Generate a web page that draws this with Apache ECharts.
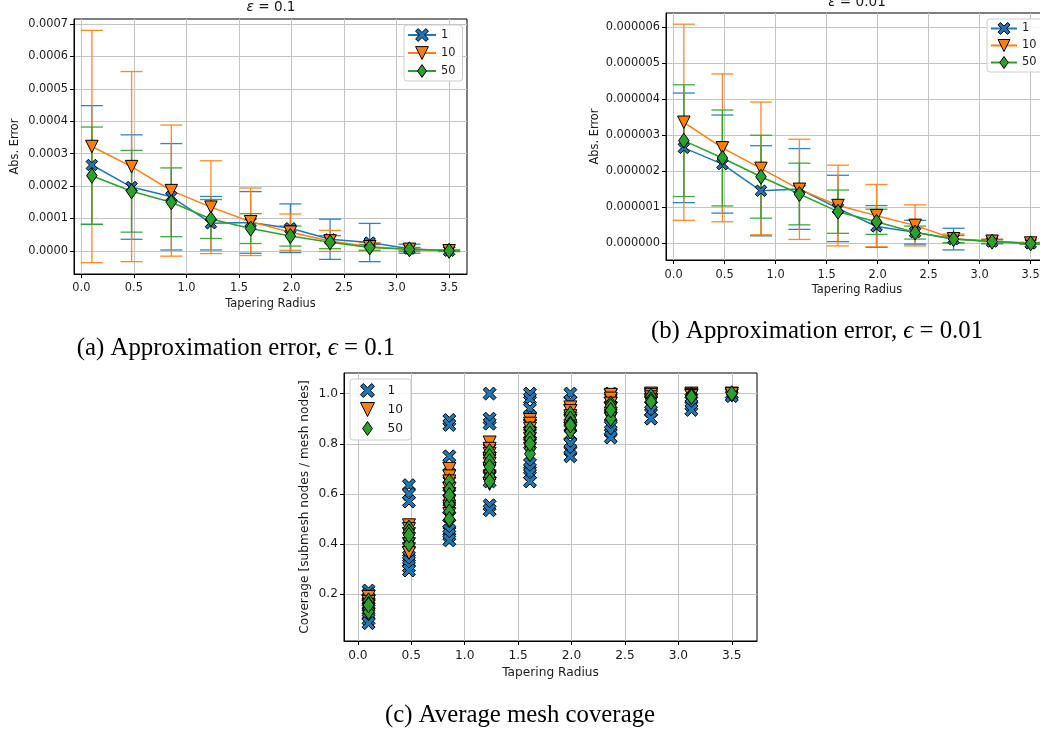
<!DOCTYPE html>
<html>
<head>
<meta charset="utf-8">
<script src="https://cdn.jsdelivr.net/npm/echarts@6/dist/echarts.min.js"></script>
<style>
html,body{margin:0;padding:0;background:#fff;}
#chart{width:1040px;height:732px;}
</style>
</head>
<body>
<div id="chart"></div>
<script>
// ---------------- DATA ----------------
const radii = [0.1, 0.478, 0.856, 1.233, 1.611, 1.989, 2.367, 2.744, 3.122, 3.5];
const seriesNames = ['1', '10', '50'];
const xTicks = [0, 0.5, 1, 1.5, 2, 2.5, 3, 3.5];
const yTicksA = [0, 0.0001, 0.0002, 0.0003, 0.0004, 0.0005, 0.0006, 0.0007];
const yTicksB = [0, 0.000001, 0.000002, 0.000003, 0.000004, 0.000005, 0.000006];
const yTicksC = [0.2, 0.4, 0.6, 0.8, 1.0];

// (a) epsilon = 0.1 : mean abs. error and spread
const meanA1  = [0.000265, 0.000197, 0.000167, 0.0000855, 0.000088, 0.00007, 0.000036, 0.000026, 0.000007, 0.0000005];
const stdA1   = [0.000183, 0.000161, 0.000164, 0.0000825, 0.000095, 0.000075, 0.000062, 0.000059, 0.000014, 0.000002];
const meanA10 = [0.000322, 0.00026, 0.000186, 0.000135, 0.00009, 0.000058, 0.000031, 0.000013, 0.000005, 0.0000005];
const stdA10  = [0.000358, 0.000293, 0.000202, 0.000143, 0.000104, 0.000056, 0.0000325, 0.000013, 0.000006, 0.000002];
const meanA50 = [0.000232, 0.000184, 0.00015, 0.0000985, 0.000069, 0.000046, 0.000027, 0.000011, 0.000005, 0.0000005];
const stdA50  = [0.00015, 0.000126, 0.000106, 0.00006, 0.000046, 0.000031, 0.00002, 0.0000087, 0.000005, 0.000002];

// (b) epsilon = 0.01
const meanB1  = [2.65e-6, 2.2e-6, 1.46e-6, 1.51e-6, 0.97e-6, 0.47e-6, 0.31e-6, 0.12e-6, 0.05e-6, 0.0];
const stdB1   = [1.52e-6, 1.36e-6, 1.25e-6, 1.12e-6, 0.92e-6, 0.58e-6, 0.33e-6, 0.3e-6, 0.06e-6, 0.02e-6];
const meanB10 = [3.36e-6, 2.65e-6, 2.08e-6, 1.5e-6, 1.05e-6, 0.77e-6, 0.5e-6, 0.13e-6, 0.06e-6, 0.01e-6];
const stdB10  = [2.72e-6, 2.05e-6, 1.84e-6, 1.39e-6, 1.12e-6, 0.865e-6, 0.57e-6, 0.13e-6, 0.06e-6, 0.02e-6];
const meanB50 = [2.85e-6, 2.37e-6, 1.85e-6, 1.37e-6, 0.88e-6, 0.6e-6, 0.3e-6, 0.12e-6, 0.05e-6, 0.0];
const stdB50  = [1.55e-6, 1.33e-6, 1.15e-6, 0.855e-6, 0.6e-6, 0.35e-6, 0.18e-6, 0.1e-6, 0.05e-6, 0.02e-6];

// (c) coverage samples per tapering radius
const cov1 = [
  [0.215, 0.2, 0.18, 0.16, 0.14, 0.12, 0.1, 0.085],
  [0.635, 0.6, 0.57, 0.37, 0.35, 0.33, 0.31, 0.295],
  [0.895, 0.875, 0.75, 0.68, 0.63, 0.58, 0.54, 0.51, 0.48, 0.455, 0.435, 0.415],
  [1.0, 0.9, 0.88, 0.78, 0.74, 0.7, 0.675, 0.65, 0.555, 0.535],
  [1.0, 0.98, 0.94, 0.91, 0.88, 0.84, 0.8, 0.72, 0.7, 0.68, 0.65],
  [1.0, 0.97, 0.94, 0.9, 0.87, 0.835, 0.8, 0.775, 0.75],
  [1.0, 0.98, 0.95, 0.91, 0.87, 0.85, 0.825],
  [1.0, 0.98, 0.95, 0.93, 0.9],
  [1.0, 0.98, 0.955, 0.935],
  [1.0, 0.99]
];
const cov10 = [
  [0.19, 0.17, 0.155, 0.14, 0.12],
  [0.475, 0.46, 0.44, 0.42, 0.40, 0.38, 0.365],
  [0.70, 0.67, 0.65, 0.62, 0.6, 0.57, 0.55, 0.52],
  [0.805, 0.78, 0.76, 0.74, 0.72, 0.7, 0.67, 0.64],
  [0.895, 0.88, 0.86, 0.84, 0.82, 0.8, 0.78],
  [0.945, 0.93, 0.91, 0.89, 0.87, 0.85],
  [0.995, 0.98, 0.96, 0.94, 0.92, 0.9],
  [1.0, 0.995, 0.985, 0.975, 0.965],
  [1.0, 0.995, 0.99],
  [1.0, 0.998]
];
const cov50 = [
  [0.175, 0.14, 0.13, 0.16, 0.157],
  [0.465, 0.45, 0.42, 0.4, 0.436],
  [0.65, 0.62, 0.58, 0.56, 0.53, 0.5, 0.595],
  [0.77, 0.75, 0.73, 0.69, 0.67, 0.65, 0.708],
  [0.86, 0.84, 0.82, 0.78, 0.76, 0.80],
  [0.92, 0.9, 0.88, 0.85, 0.874],
  [0.96, 0.95, 0.92, 0.9, 0.934],
  [0.99, 0.975, 0.967],
  [0.995, 0.99, 0.987],
  [0.997, 1.0]
];

// ---------------- STYLE ----------------
const colors = ['#1f77b4', '#ff7f0e', '#2ca02c'];
const SYM_X = 'path://M2,0L5,3L8,0L10,2L7,5L10,8L8,10L5,7L2,10L0,8L3,5L0,2Z';
const SYM_V = 'path://M0,0L10,0L5,10Z';
const SYM_D = 'path://M0,0M10,10M5,0L8.5,5L5,10L1.5,5Z';
const symbols = [SYM_X, SYM_V, SYM_D];
const FONT = 'DejaVu Sans';
const TXT = '#1a1a1a';

function buildErr(means, stds) {
  return radii.map((r, i) => [r, means[i] - stds[i], means[i] + stds[i]]);
}
function buildLine(means) {
  return radii.map((r, i) => [r, means[i]]);
}
function buildScatter(cov) {
  const out = [];
  cov.forEach((vals, i) => vals.forEach(v => out.push([radii[i], v])));
  return out;
}

function errSeries(prefix, k, data, xi, yi) {
  const col = colors[k];
  return {
    type: 'custom', name: prefix + ':' + seriesNames[k] + ':err',
    xAxisIndex: xi, yAxisIndex: yi, data: data,
    encode: {x: 0, y: [1, 2]}, silent: true,
    renderItem: function (params, api) {
      const x = api.value(0), lo = api.value(1), hi = api.value(2);
      const p1 = api.coord([x, hi]), p2 = api.coord([x, lo]);
      const w = 11;
      const st = {stroke: col, lineWidth: 1.3, opacity: 0.9};
      return {type: 'group', children: [
        {type: 'line', shape: {x1: p1[0], y1: p1[1], x2: p2[0], y2: p2[1]}, style: st},
        {type: 'line', shape: {x1: p1[0] - w, y1: p1[1], x2: p1[0] + w, y2: p1[1]}, style: st},
        {type: 'line', shape: {x1: p2[0] - w, y1: p2[1], x2: p2[0] + w, y2: p2[1]}, style: st}
      ]};
    }
  };
}
function lineSeries(prefix, k, data, xi, yi) {
  const sizes = [11.5, 12.5, 15];
  return {
    type: 'line', name: prefix + ':' + seriesNames[k],
    xAxisIndex: xi, yAxisIndex: yi, data: data,
    symbol: symbols[k], symbolSize: sizes[k], showSymbol: true, showAllSymbol: true,
    lineStyle: {color: colors[k], width: 1.5},
    itemStyle: {color: colors[k], borderColor: '#000', borderWidth: 1},
    clip: false, silent: true
  };
}
function scatterSeries(k, data) {
  const sizes = [13, 13, 15.5];
  return {
    type: 'scatter', name: 'c:' + seriesNames[k],
    xAxisIndex: 2, yAxisIndex: 2, data: data,
    symbol: symbols[k], symbolSize: sizes[k],
    itemStyle: {color: colors[k], borderColor: '#000', borderWidth: 1, opacity: 1},
    silent: true
  };
}

function xAxisCfg(gi, min, max, fs, nameGap, margin) {
  return {
    gridIndex: gi, type: 'value', min: min, max: max,
    axisLine: {show: true, onZero: false, lineStyle: {color: '#000', width: 1}},
    axisTick: {show: true, length: 4, customValues: xTicks, lineStyle: {color: '#000'}},
    axisLabel: {customValues: xTicks, formatter: v => v.toFixed(1), fontSize: fs, fontFamily: FONT, color: TXT, margin: margin},
    splitLine: {show: true, lineStyle: {color: '#c4c4c4', width: 1}},
    name: 'Tapering Radius', nameLocation: 'middle', nameGap: nameGap,
    nameTextStyle: {fontSize: fs, fontFamily: FONT, color: TXT}
  };
}
function yAxisCfg(gi, min, max, ticks, dec, fs, name, nameGap) {
  return {
    gridIndex: gi, type: 'value', min: min, max: max,
    axisLine: {show: true, onZero: false, lineStyle: {color: '#000', width: 1}},
    axisTick: {show: true, length: 4, customValues: ticks, lineStyle: {color: '#000'}},
    axisLabel: {customValues: ticks, formatter: v => v.toFixed(dec), fontSize: fs, fontFamily: FONT, color: TXT, margin: 6},
    splitLine: {show: true, lineStyle: {color: '#c4c4c4', width: 1}},
    name: name, nameLocation: 'middle', nameGap: nameGap,
    nameTextStyle: {fontSize: fs, fontFamily: FONT, color: TXT}
  };
}
function legendCfg(prefix, left, top, fs, itemW, itemH, gap, padding) {
  return {
    orient: 'vertical', left: left, top: top, align: 'left',
    data: seriesNames.map(n => prefix + ':' + n),
    formatter: n => n.split(':')[1],
    itemWidth: itemW, itemHeight: itemH, itemGap: gap, padding: padding,
    backgroundColor: 'rgba(255,255,255,0.85)', borderColor: '#cccccc', borderWidth: 1, borderRadius: 3,
    textStyle: {fontSize: fs, fontFamily: FONT, color: TXT, lineHeight: itemH},
    itemStyle: {borderColor: '#000', borderWidth: 1},
    selectedMode: false
  };
}

const FA = 11.4, FC = 12.2;
const series = [];
[[meanA1, stdA1], [meanA10, stdA10], [meanA50, stdA50]].forEach((p, k) => {
  series.push(errSeries('a', k, buildErr(p[0], p[1]), 0, 0));
  series.push(lineSeries('a', k, buildLine(p[0]), 0, 0));
});
[[meanB1, stdB1], [meanB10, stdB10], [meanB50, stdB50]].forEach((p, k) => {
  series.push(errSeries('b', k, buildErr(p[0], p[1]), 1, 1));
  series.push(lineSeries('b', k, buildLine(p[0]), 1, 1));
});
[cov1, cov10, cov50].forEach((c, k) => series.push(scatterSeries(k, buildScatter(c))));

const capFont = "'Liberation Serif','DejaVu Serif',serif";
const CAP = 24.8;
function caption(x, y, label, eps) {
  return {
    type: 'text', x: x, y: y,
    style: {
      text: label + '{e|\u03f5}{m| = ' + eps + '}',
      font: CAP + 'px ' + capFont, fill: '#000', align: 'center', verticalAlign: 'middle',
      rich: {
        e: {fontFamily: capFont, fontSize: CAP, fontStyle: 'italic', fill: '#000'},
        m: {fontFamily: capFont, fontSize: CAP, fill: '#000'}
      }
    }
  };
}
function title(x, y, eps) {
  return {
    type: 'text', x: x, y: y,
    style: {
      text: '{e|\u03b5} = ' + eps,
      font: '13.6px ' + FONT, fill: TXT, align: 'center', verticalAlign: 'middle',
      rich: {e: {fontFamily: FONT, fontSize: 13.6, fontStyle: 'italic', fill: TXT}}
    }
  };
}

const option = {
  animation: false,
  backgroundColor: '#fff',
  grid: [
    {left: 74, top: 19, width: 393, height: 255, show: true, borderColor: '#000', borderWidth: 1, outerBoundsMode: 'none', containLabel: false},
    {left: 666, top: 13, width: 382, height: 247, show: true, borderColor: '#000', borderWidth: 1, outerBoundsMode: 'none', containLabel: false},
    {left: 344, top: 373, width: 413, height: 268, show: true, borderColor: '#000', borderWidth: 1, outerBoundsMode: 'none', containLabel: false}
  ],
  xAxis: [
    xAxisCfg(0, -0.07, 3.67, FA, 25, 9),
    xAxisCfg(1, -0.075, 3.67, FA, 25, 10),
    xAxisCfg(2, -0.13, 3.736, FC, 26, 9)
  ],
  yAxis: [
    yAxisCfg(0, -0.000071, 0.000715, yTicksA, 4, FA, 'Abs. Error', 53),
    yAxisCfg(1, -0.46e-6, 6.39e-6, yTicksB, 6, FA, 'Abs. Error', 65),
    yAxisCfg(2, 0.014, 1.082, yTicksC, 1, FC, 'Coverage [submesh nodes / mesh nodes]', 33)
  ],
  legend: [
    legendCfg('a', 404, 25, FA, 28, 16, 2, [2, 7, 2, 3]),
    legendCfg('b', 987, 19, FA, 26, 15, 2, [2, 7, 2, 3]),
    legendCfg('c', 350, 379, FC, 30, 14, 4, [4, 8, 4, 10])
  ],
  graphic: [
    title(271, 7.8, '0.1'),
    title(857, 2.2, '0.01'),
    caption(236, 348, '(a) Approximation error, ', '0.1'),
    caption(817, 331, '(b) Approximation error, ', '0.01'),
    {type: 'text', x: 520, y: 715, style: {text: '(c) Average mesh coverage', font: CAP + 'px ' + capFont, fill: '#000', align: 'center', verticalAlign: 'middle'}}
  ],
  series: series
};

const chart = echarts.init(document.getElementById('chart'), null, {renderer: 'canvas'});
chart.setOption(option);
</script>
</body>
</html>
